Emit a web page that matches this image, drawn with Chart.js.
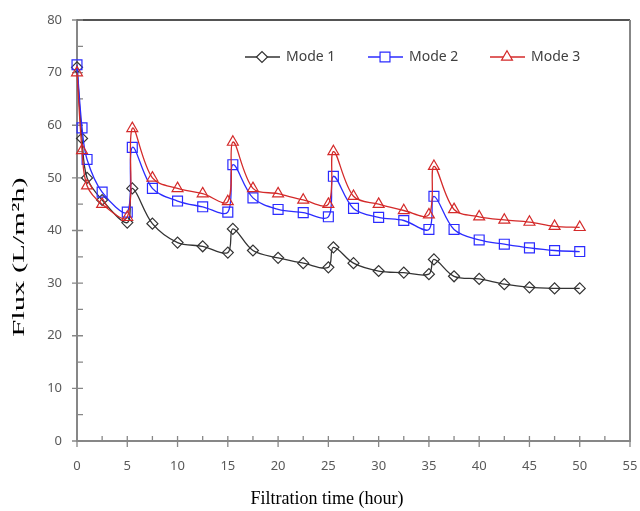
<!DOCTYPE html>
<html>
<head>
<meta charset="utf-8">
<script src="https://cdn.jsdelivr.net/npm/chart.js"></script>
<style>
  html, body { margin: 0; padding: 0; background: #fff; }
  #wrap { width: 640px; height: 511px; }
</style>
</head>
<body>
<div id="wrap"><canvas id="flux"></canvas></div>
<script>
// filtration time (hour) and permeate flux (L/m2h) per operating mode
var hours = [0, 0.5, 1, 2.5, 5, 5.5, 7.5, 10, 12.5, 15, 15.5, 17.5, 20, 22.5, 25, 25.5, 27.5, 30, 32.5, 35, 35.5, 37.5, 40, 42.5, 45, 47.5, 50];
var mode1 = [71, 57.5, 50, 45.8, 41.5, 48, 41.3, 37.7, 37, 35.8, 40.3, 36.2, 34.8, 33.8, 33, 36.8, 33.8, 32.3, 32, 31.7, 34.5, 31.3, 30.8, 29.8, 29.2, 29, 29];
var mode2 = [71.5, 59.5, 53.5, 47.3, 43.5, 55.8, 48, 45.6, 44.5, 43.5, 52.5, 46.2, 44, 43.4, 42.6, 50.3, 44.2, 42.5, 41.9, 40.2, 46.5, 40.2, 38.2, 37.4, 36.7, 36.2, 36];
var mode3 = [70, 55.2, 48.5, 45, 42.5, 59.4, 50, 48, 47, 45.5, 56.8, 48, 47, 45.8, 45, 55, 46.5, 45, 43.8, 43, 52.2, 44, 42.6, 42, 41.6, 40.8, 40.6];
var seriesNames = ['Mode 1', 'Mode 2', 'Mode 3'];
var xTicks = { min: 0, max: 55, step: 5, minor: 2.5 };
var yTicks = { min: 0, max: 80, step: 10, minor: 5 };

var AXIS = '#878787';
var LABEL = '#595959';

function pts(ys) {
  return hours.map(function (h, i) { return { x: h, y: ys[i] }; });
}

function series(label, ys, color, style, r, order) {
  return {
    label: label,
    data: pts(ys),
    borderColor: color,
    backgroundColor: '#ffffff',
    borderWidth: 1.3,
    pointStyle: style,
    pointRadius: r,
    pointHoverRadius: r,
    pointBorderColor: color,
    pointBackgroundColor: 'rgba(255,255,255,0)',
    pointBorderWidth: 1.2,
    tension: 0.35,
    clip: false,
    order: order
  };
}

// frame, tick marks, axis titles and the legend inside the plot
var decor = {
  id: 'decor',
  beforeDatasetsDraw: function (chart) {
    var ctx = chart.ctx, a = chart.chartArea;
    var xs = chart.scales.x, ys = chart.scales.y;
    ctx.save();
    ctx.lineWidth = 1.5;
    ctx.strokeStyle = '#1a1a1a';
    ctx.beginPath(); ctx.moveTo(a.left, a.top); ctx.lineTo(a.right, a.top); ctx.stroke();
    ctx.lineWidth = 2;
    ctx.strokeStyle = AXIS;
    ctx.beginPath(); ctx.moveTo(a.right, a.top); ctx.lineTo(a.right, a.bottom); ctx.stroke();

    ctx.lineWidth = 1.3;
    ctx.beginPath();
    var v, p;
    for (v = xTicks.min; v <= xTicks.max + 1e-9; v += xTicks.minor) {
      p = xs.getPixelForValue(v);
      var major = Math.abs(v / xTicks.step - Math.round(v / xTicks.step)) < 1e-6;
      ctx.moveTo(p, a.bottom - 5);
      ctx.lineTo(p, a.bottom + (major ? 6 : 0));
    }
    for (v = yTicks.min; v <= yTicks.max + 1e-9; v += yTicks.minor) {
      p = ys.getPixelForValue(v);
      var majorY = Math.abs(v / yTicks.step - Math.round(v / yTicks.step)) < 1e-6;
      ctx.moveTo(a.left + 6, p);
      ctx.lineTo(a.left - (majorY ? 5 : 0), p);
    }
    ctx.stroke();

    ctx.fillStyle = '#000';
    ctx.textAlign = 'center';
    ctx.textBaseline = 'middle';
    ctx.font = '18px "Liberation Serif", serif';
    ctx.fillText('Filtration time (hour)', 327, 499);
    ctx.font = '17px "Liberation Serif", serif';
    ctx.translate(20, 257);
    ctx.rotate(-Math.PI / 2);
    ctx.scale(1.8, 1);
    ctx.fillText('Flux (L/m\u00b2h)', 0, 0);
    ctx.restore();
  },
  afterDraw: function (chart) {
    var ctx = chart.ctx;
    var starts = [245, 368, 490], y = 57;
    ctx.save();
    chart.data.datasets.forEach(function (ds, i) {
      var x0 = starts[i];
      ctx.strokeStyle = ds.borderColor;
      ctx.lineWidth = ds.borderWidth;
      ctx.beginPath(); ctx.moveTo(x0, y); ctx.lineTo(x0 + 35, y); ctx.stroke();
      ctx.fillStyle = '#ffffff';
      ctx.lineWidth = ds.pointBorderWidth;
      Chart.helpers.drawPoint(ctx, {
        pointStyle: ds.pointStyle, radius: ds.pointRadius, rotation: 0, borderWidth: ds.pointBorderWidth
      }, x0 + 17, y);
      ctx.fillStyle = '#404040';
      ctx.font = '14px "Noto Sans", sans-serif';
      ctx.textAlign = 'left';
      ctx.textBaseline = 'middle';
      ctx.fillText(ds.label, x0 + 41, y);
    });
    ctx.restore();
  }
};

new Chart(document.getElementById('flux'), {
  type: 'line',
  data: {
    datasets: [
      series(seriesNames[0], mode1, '#333333', 'rectRot', 5.5, 2),
      series(seriesNames[1], mode2, '#2b2bff', 'rect', 7, 1),
      series(seriesNames[2], mode3, '#d42a2a', 'triangle', 6.3, 0)
    ]
  },
  options: {
    responsive: true,
    maintainAspectRatio: false,
    animation: false,
    events: [],
    layout: { padding: { top: 20, right: 10, left: 0, bottom: 0 } },
    plugins: { legend: { display: false }, tooltip: { enabled: false } },
    scales: {
      x: {
        type: 'linear',
        min: xTicks.min, max: xTicks.max,
        grid: { display: false },
        border: { color: AXIS, width: 2 },
        ticks: { stepSize: xTicks.step, color: LABEL, padding: 9, font: { family: 'Noto Sans', size: 13 } },
        afterFit: function (s) { s.height = 70; s.paddingLeft = 0; s.paddingRight = 0; }
      },
      y: {
        min: yTicks.min, max: yTicks.max,
        grid: { display: false },
        border: { color: AXIS, width: 2 },
        ticks: { stepSize: yTicks.step, color: LABEL, padding: 7, font: { family: 'Noto Sans', size: 13 } },
        afterFit: function (s) { s.width = 77; s.paddingTop = 0; s.paddingBottom = 0; }
      }
    }
  },
  plugins: [decor]
});
</script>
</body>
</html>
